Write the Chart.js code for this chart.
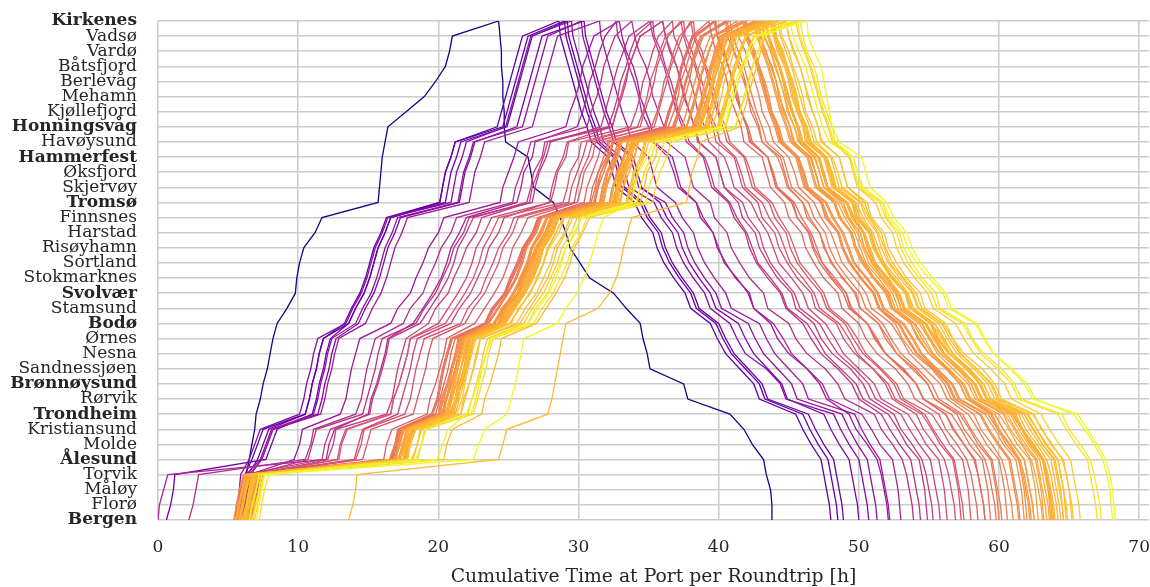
<!DOCTYPE html>
<html><head><meta charset="utf-8">
<script src="https://cdn.jsdelivr.net/npm/chart.js@4.4.1/dist/chart.umd.min.js"></script>
<style>html,body{margin:0;padding:0;background:#fff;}canvas{display:block;}</style>
</head><body>
<canvas id="c" width="1150" height="587"></canvas>
<script>
// Ports from north (top) to south (bottom)
const ports = ['Kirkenes','Vadsø','Vardø','Båtsfjord','Berlevåg','Mehamn','Kjøllefjord','Honningsvåg','Havøysund','Hammerfest','Øksfjord','Skjervøy','Tromsø','Finnsnes','Harstad','Risøyhamn','Sortland','Stokmarknes','Svolvær','Stamsund','Bodø','Ørnes','Nesna','Sandnessjøen','Brønnøysund','Rørvik','Trondheim','Kristiansund','Molde','Ålesund','Torvik','Måløy','Florø','Bergen'];
const majorPorts = ['Kirkenes','Honningsvåg','Hammerfest','Tromsø','Svolvær','Bodø','Brønnøysund','Trondheim','Ålesund','Bergen'];
const xTicks = [0,10,20,30,40,50,60,70];
const xTitle = 'Cumulative Time at Port per Roundtrip [h]';

// Hours spent at each port, per roundtrip, in sailing order:
// northbound Bergen -> Kirkenes (34 stops), then southbound Vadsø -> Bergen (33 stops)
const dwellHours = [
[6.2,0,.1,0,.2,.2,.2,.1,.3,.2,.3,.2,.2,.3,.7,.6,.1,.2,.3,.8,.5,4.0,.1,.1,.1,.2,.2,1.3,1.3,.8,.7,.3,.2,3.3, .1,.1,0,.1,0,.1,0,.1,1.6,.2,.2,1.4,.5,.4,.3,.7,.7,1.7,.9,1.0,.2,.3,.2,2.4,.3,3.0,1.0,.6,.8,.2,.3,.1,0],
[5.9,.1,.1,.1,.5,.4,.4,3.0,.3,.2,.3,.2,.3,1.5,.5,.6,.4,.3,.3,.5,.4,3.8,.2,.2,.4,.3,3.0,.3,.3,.3,.3,.3,.3,2.6, .1,.3,.3,.3,.3,.3,.4,.3,1.2,.3,.3,1.3,.5,.8,.3,.5,.7,.8,.4,1.4,.5,.6,1.0,1.0,.4,2.6,.5,.6,.7,.2,.2,.2,.1],
[6.1,.1,.1,.1,.7,.4,.4,2.6,.3,.2,.3,.2,.3,1.8,.5,.6,.4,.3,.3,.5,.4,3.5,.2,.2,.4,.3,3.4,.3,.3,.3,.3,.3,.3,2.6, .1,.3,.3,.3,.3,.3,.4,.3,1.2,.3,.3,1.3,.5,.8,.3,.5,.7,.8,.4,1.4,.5,.6,1.0,1.0,.4,2.7,.5,.6,.7,.2,.2,.2,.1],
[.6,.3,.2,.1,6.5,.4,.4,2.5,.3,.2,.3,.2,.3,1.3,.5,.6,.4,.3,.3,.5,.4,3.9,.2,.2,.4,.3,3.3,.3,.3,.3,.3,.3,.3,2.5, .1,.3,.3,.3,.3,.3,.4,.3,1.2,.3,.3,1.3,.5,.8,.3,.5,.7,.8,.4,1.4,.5,.6,1.0,1.0,.4,2.9,.5,.6,.7,.2,.2,.2,.1],
[6.3,.1,.1,.1,.8,.4,.4,3.2,.3,.2,.3,.2,.3,1.6,.5,.6,.4,.3,.3,.5,.4,4.2,.2,.2,.4,.3,3.0,.3,.3,.3,.3,.3,.3,3.0, .1,.3,.3,.3,.3,.3,.4,.3,1.2,.3,.3,1.3,.5,.8,.3,.5,.7,.8,.4,1.6,.5,.6,1.0,1.0,.4,2.6,.5,.6,.7,.2,.2,.2,.1],
[5.6,.1,.1,.1,.6,.4,.4,2.8,.3,.2,.3,.2,.3,2.0,.5,.6,.4,.3,.3,.5,.4,4.5,.2,.2,.4,.3,2.8,.3,.3,.3,.3,.3,.3,2.9, .1,.3,.3,.3,.3,.3,.4,.3,1.2,.3,.3,1.8,.5,.8,.3,.5,.7,.8,.4,1.4,.5,.6,1.5,1.0,.4,3.4,.5,.6,.7,.2,.2,.2,.1],
[6.0,.1,.1,.1,1.0,.4,.4,3.0,.3,.2,.3,.2,.3,1.7,.5,.6,.4,.3,.3,.5,.4,4.3,.2,.2,.4,.3,3.5,.3,.3,.3,.3,.3,.3,2.4, .1,.3,.3,.3,.3,.3,.4,.3,1.2,.3,.3,1.9,.5,.8,.3,.5,.7,.8,.4,1.9,.5,.6,1.0,1.0,.4,3.2,.5,.6,.7,.2,.2,.2,.1],
[6.2,.1,.1,.1,.9,.4,.4,3.4,.3,.2,.3,.2,.3,1.9,.5,.6,.4,.3,.3,.5,.4,4.4,.2,.2,.4,.3,3.4,.3,.3,.3,.3,.3,.3,3.0, .1,.3,.3,.3,.3,.3,.4,.3,1.2,.3,.3,1.3,.5,.8,.3,.5,.7,.8,.4,2.0,.5,.6,1.0,1.0,.4,3.3,.5,.6,.7,.2,.2,.2,.1],
[0,.1,.3,.3,11.3,.2,.4,2.4,.2,.4,.3,.3,.2,1.8,.7,.7,.6,.4,.3,.6,.5,3.6,.3,.2,.6,.2,3.0,.4,.3,.2,.4,.3,.4,.8, .1,.5,.3,.4,.3,.2,.5,.3,1.1,.4,.3,1.3,.5,.7,.4,.4,.9,.8,.4,1.4,.7,.6,1.1,1.1,.5,2.3,.7,.6,.9,.2,.2,.1,.1],
[2.2,.3,.2,.2,7.6,.4,.2,3.0,.4,.2,.2,.3,.3,2.0,.5,.9,.4,.5,.4,.7,.4,4.0,.2,.4,.4,.3,4.0,.3,.4,.3,.2,.4,.4,1.2, .2,.3,.5,.3,.2,.4,.4,.2,1.3,.3,.3,1.2,.3,.9,.3,.6,.7,1.0,.3,1.5,.5,.8,1.3,.9,.5,2.1,.5,.8,.7,.3,.2,.2,.1],
[6.0,.2,.2,.3,4.0,.3,.3,3.3,.3,.3,.3,.2,.3,2.4,.6,.8,.5,.5,.3,.7,.4,4.5,.2,.3,.5,.3,3.6,.3,.3,.3,.3,.4,.4,1.5, .2,.4,.4,.3,.3,.3,.4,.3,1.2,.3,.3,1.2,.4,.8,.3,.5,.8,.9,.4,1.2,.6,.7,1.2,1.0,.5,1.6,.6,.7,.8,.2,.2,.2,.1],
[5.5,.1,.3,.3,5.5,.2,.4,2.8,.2,.4,.3,.3,.2,2.2,.7,.7,.6,.4,.3,.6,.5,3.8,.3,.2,.6,.2,4.5,.4,.3,.2,.4,.3,.4,1.2, .1,.5,.3,.4,.3,.2,.5,.3,1.1,.4,.3,1.1,.5,.7,.4,.4,.9,.8,.4,1.4,.7,.6,1.1,1.1,.5,1.8,.7,.6,.9,.2,.2,.1,.1],
[6.4,.3,.2,.2,5.0,.4,.2,3.6,.4,.2,.2,.3,.3,1.6,.5,.9,.4,.5,.4,.7,.4,3.4,.2,.4,.4,.3,4.6,.3,.4,.3,.2,.4,.4,1.6, .2,.3,.5,.3,.2,.4,.4,.2,1.3,.3,.3,1.0,.3,.9,.3,.6,.7,1.0,.3,1.3,.5,.8,1.3,.9,.5,1.7,.5,.8,.7,.3,.2,.2,.1],
[6.0,.2,.2,.3,7.3,.3,.3,2.5,.3,.3,.3,.2,.3,2.4,.6,.8,.5,.5,.3,.7,.4,3.2,.2,.3,.5,.3,3.2,.3,.3,.3,.3,.4,.4,1.6, .2,.4,.4,.3,.3,.3,.4,.3,1.2,.3,.3,1.3,.4,.8,.3,.5,.8,.9,.4,1.4,.6,.7,1.2,1.0,.5,1.8,.6,.7,.8,.2,.2,.2,.1],
[5.7,.1,.3,.3,6.4,.2,.4,3.2,.2,.4,.3,.3,.2,2.0,.7,.7,.6,.4,.3,.6,.5,4.2,.3,.2,.6,.2,4.4,.4,.3,.2,.4,.3,.4,1.0, .1,.5,.3,.4,.3,.2,.5,.3,1.1,.4,.3,1.2,.5,.7,.4,.4,.9,.8,.4,1.2,.7,.6,1.1,1.1,.5,1.9,.7,.6,.9,.2,.2,.1,.1],
[6.6,.3,.2,.2,6.8,.4,.2,2.9,.4,.2,.2,.3,.3,2.6,.5,.9,.4,.5,.4,.7,.4,3.9,.2,.4,.4,.3,3.8,.3,.4,.3,.2,.4,.4,.9, .2,.3,.5,.3,.2,.4,.4,.2,1.3,.3,.3,1.1,.3,.9,.3,.6,.7,1.0,.3,1.5,.5,.8,1.3,.9,.5,1.7,.5,.8,.7,.3,.2,.2,.1],
[5.9,.2,.2,.3,8.0,.3,.3,3.0,.3,.3,.3,.2,.3,2.3,.6,.8,.5,.5,.3,.7,.4,4.0,.2,.3,.5,.3,4.4,.3,.3,.3,.3,.4,.4,.6, .2,.4,.4,.3,.3,.3,.4,.3,1.2,.3,.3,1.2,.4,.8,.3,.5,.8,.9,.4,1.3,.6,.7,1.2,1.0,.5,1.7,.6,.7,.8,.2,.2,.2,.1],
[6.2,.1,.3,.3,6.0,.2,.4,3.1,.2,.4,.3,.3,.2,2.5,.7,.7,.6,.4,.3,.6,.5,4.6,.3,.2,.6,.2,4.0,.4,.3,.2,.4,.3,.4,1.3, .1,.5,.3,.4,.3,.2,.5,.3,1.1,.4,.3,1.2,.5,.7,.4,.4,.9,.8,.4,1.4,.7,.6,1.1,1.1,.5,1.9,.7,.6,.9,.2,.2,.1,.1],
[5.8,.3,.2,.2,3.2,.4,.2,2.7,.4,.2,.2,.3,.3,2.2,.5,.9,.4,.5,.4,.7,.4,4.0,.2,.4,.4,.3,3.4,.3,.4,.3,.2,.4,.4,1.8, .2,.3,.5,.3,.2,.4,.4,.2,1.3,.3,.3,1.1,.3,.9,.3,.6,.7,1.0,.3,1.2,.5,.8,1.3,.9,.5,1.6,.5,.8,.7,.3,.2,.2,.1],
[5.8,.1,.3,.3,9.6,.2,.4,2.5,.2,.4,.3,.3,.2,2.0,.7,.7,.6,.4,.3,.6,.5,3.5,.3,.2,.6,.2,4.0,.4,.3,.2,.4,.3,.4,1.0, .1,.5,.3,.4,.3,.2,.5,.3,1.1,.4,.3,1.2,.5,.7,.4,.4,.9,.8,.4,1.3,.7,.6,1.1,1.1,.5,2.0,.7,.6,.9,.2,.2,.1,.1],
[6.0,.3,.2,.2,10.0,.4,.2,2.2,.4,.2,.2,.3,.3,2.4,.5,.9,.4,.5,.4,.7,.4,3.3,.2,.4,.4,.3,4.4,.3,.4,.3,.2,.4,.4,1.2, .2,.3,.5,.3,.2,.4,.4,.2,1.3,.3,.3,1.0,.3,.9,.3,.6,.7,1.0,.3,1.2,.5,.8,1.3,.9,.5,1.7,.5,.8,.7,.3,.2,.2,.1],
[5.5,.2,.2,.3,10.4,.3,.3,2.6,.3,.3,.3,.2,.3,2.2,.6,.8,.5,.5,.3,.7,.4,3.9,.2,.3,.5,.3,3.8,.3,.3,.3,.3,.4,.4,1.5, .2,.4,.4,.3,.3,.3,.4,.3,1.2,.3,.3,1.1,.4,.8,.3,.5,.8,.9,.4,1.3,.6,.7,1.2,1.0,.5,1.6,.6,.7,.8,.2,.2,.2,.1],
[6.2,.1,.3,.3,9.8,.2,.4,2.8,.2,.4,.3,.3,.2,2.0,.7,.7,.6,.4,.3,.6,.5,3.6,.3,.2,.6,.2,4.2,.4,.3,.2,.4,.3,.4,1.4, .1,.5,.3,.4,.3,.2,.5,.3,1.1,.4,.3,1.2,.5,.7,.4,.4,.9,.8,.4,1.1,.7,.6,1.1,1.1,.5,2.0,.7,.6,.9,.2,.2,.1,.1],
[5.6,.3,.2,.2,10.2,.4,.2,2.4,.4,.2,.2,.3,.3,2.5,.5,.9,.4,.5,.4,.7,.4,4.0,.2,.4,.4,.3,4.4,.3,.4,.3,.2,.4,.4,1.7, .2,.3,.5,.3,.2,.4,.4,.2,1.3,.3,.3,1.0,.3,.9,.3,.6,.7,1.0,.3,1.3,.5,.8,1.3,.9,.5,1.6,.5,.8,.7,.3,.2,.2,.1],
[6.4,.2,.2,.3,10.6,.3,.3,2.7,.3,.3,.3,.2,.3,1.9,.6,.8,.5,.5,.3,.7,.4,3.4,.2,.3,.5,.3,4.0,.3,.3,.3,.3,.4,.4,2.0, .2,.4,.4,.3,.3,.3,.4,.3,1.2,.3,.3,1.2,.4,.8,.3,.5,.8,.9,.4,1.2,.6,.7,1.2,1.0,.5,1.7,.6,.7,.8,.2,.2,.2,.1],
[5.9,.1,.3,.3,10.1,.2,.4,3.0,.2,.4,.3,.3,.2,2.3,.7,.7,.6,.4,.3,.6,.5,3.8,.3,.2,.6,.2,4.8,.4,.3,.2,.4,.3,.4,1.6, .1,.5,.3,.4,.3,.2,.5,.3,1.1,.4,.3,1.1,.5,.7,.4,.4,.9,.8,.4,1.4,.7,.6,1.1,1.1,.5,1.5,.7,.6,.9,.2,.2,.1,.1],
[6.1,.3,.2,.2,10.3,.4,.2,2.5,.4,.2,.2,.3,.3,2.6,.5,.9,.4,.5,.4,.7,.4,4.2,.2,.4,.4,.3,4.2,.3,.4,.3,.2,.4,.4,2.2, .2,.3,.5,.3,.2,.4,.4,.2,1.3,.3,.3,1.0,.3,.9,.3,.6,.7,1.0,.3,1.2,.5,.8,1.3,.9,.5,1.6,.5,.8,.7,.3,.2,.2,.1],
[5.4,.2,.2,.3,10.8,.3,.3,2.6,.3,.3,.3,.2,.3,2.1,.6,.8,.5,.5,.3,.7,.4,3.7,.2,.3,.5,.3,5.0,.3,.3,.3,.3,.4,.4,2.4, .2,.4,.4,.3,.3,.3,.4,.3,1.2,.3,.3,1.2,.4,.8,.3,.5,.8,.9,.4,1.4,.6,.7,1.2,1.0,.5,1.7,.6,.7,.8,.2,.2,.2,.1],
[6.3,.1,.3,.3,9.9,.2,.4,2.9,.2,.4,.3,.3,.2,2.2,.7,.7,.6,.4,.3,.6,.5,4.4,.3,.2,.6,.2,4.6,.4,.3,.2,.4,.3,.4,1.9, .1,.5,.3,.4,.3,.2,.5,.3,1.1,.4,.3,1.3,.5,.7,.4,.4,.9,.8,.4,1.3,.7,.6,1.1,1.1,.5,1.9,.7,.6,.9,.2,.2,.1,.1],
[5.7,.3,.2,.2,10.5,.4,.2,2.7,.4,.2,.2,.3,.3,2.4,.5,.9,.4,.5,.4,.7,.4,3.9,.2,.4,.4,.3,5.2,.3,.4,.3,.2,.4,.4,2.6, .2,.3,.5,.3,.2,.4,.4,.2,1.3,.3,.3,1.1,.3,.9,.3,.6,.7,1.0,.3,1.3,.5,.8,1.3,.9,.5,1.7,.5,.8,.7,.3,.2,.2,.1],
[6.6,.2,.2,.3,10.2,.3,.3,2.4,.3,.3,.3,.2,.3,2.7,.6,.8,.5,.5,.3,.7,.4,4.1,.2,.3,.5,.3,4.5,.3,.3,.3,.3,.4,.4,2.3, .2,.4,.4,.3,.3,.3,.4,.3,1.2,.3,.3,1.3,.4,.8,.3,.5,.8,.9,.4,1.5,.6,.7,1.2,1.0,.5,1.8,.6,.7,.8,.2,.2,.2,.1],
[5.9,.1,.3,.3,10.7,.2,.4,3.1,.2,.4,.3,.3,.2,2.0,.7,.7,.6,.4,.3,.6,.5,4.3,.3,.2,.6,.2,4.9,.4,.3,.2,.4,.3,.4,2.1, .1,.5,.3,.4,.3,.2,.5,.3,1.1,.4,.3,1.3,.5,.7,.4,.4,.9,.8,.4,1.4,.7,.6,1.1,1.1,.5,2.0,.7,.6,.9,.2,.2,.1,.1],
[6.0,.3,.2,.2,10.4,.4,.2,2.8,.4,.2,.2,.3,.3,2.5,.5,.9,.4,.5,.4,.7,.4,3.6,.2,.4,.4,.3,5.4,.3,.4,.3,.2,.4,.4,2.8, .2,.3,.5,.3,.2,.4,.4,.2,1.3,.3,.3,1.2,.3,.9,.3,.6,.7,1.0,.3,1.5,.5,.8,1.3,.9,.5,1.8,.5,.8,.7,.3,.2,.2,.1],
[5.6,.2,.2,.3,11.0,.3,.3,2.6,.3,.3,.3,.2,.3,2.3,.6,.8,.5,.5,.3,.7,.4,4.5,.2,.3,.5,.3,4.8,.3,.3,.3,.3,.4,.4,2.5, .2,.4,.4,.3,.3,.3,.4,.3,1.2,.3,.3,1.4,.4,.8,.3,.5,.8,.9,.4,1.5,.6,.7,1.2,1.0,.5,2.1,.6,.7,.8,.2,.2,.2,.1],
[6.2,.1,.3,.3,10.6,.2,.4,3.0,.2,.4,.3,.3,.2,2.6,.7,.7,.6,.4,.3,.6,.5,4.0,.3,.2,.6,.2,5.0,.4,.3,.2,.4,.3,.4,2.2, .1,.5,.3,.4,.3,.2,.5,.3,1.1,.4,.3,1.3,.5,.7,.4,.4,.9,.8,.4,1.6,.7,.6,1.1,1.1,.5,2.1,.7,.6,.9,.2,.2,.1,.1],
[6.5,.3,.2,.2,10.3,.4,.2,2.7,.4,.2,.2,.3,.3,2.4,.5,.9,.4,.5,.4,.7,.4,4.6,.2,.4,.4,.3,4.4,.3,.4,.3,.2,.4,.4,3.0, .2,.3,.5,.3,.2,.4,.4,.2,1.3,.3,.3,1.5,.3,.9,.3,.6,.7,1.0,.3,1.4,.5,.8,1.3,.9,.5,2.1,.5,.8,.7,.3,.2,.2,.1],
[5.8,.2,.2,.3,11.2,.3,.3,2.9,.3,.3,.3,.2,.3,2.2,.6,.8,.5,.5,.3,.7,.4,4.2,.2,.3,.5,.3,5.2,.3,.3,.3,.3,.4,.4,2.6, .2,.4,.4,.3,.3,.3,.4,.3,1.2,.3,.3,1.4,.4,.8,.3,.5,.8,.9,.4,1.6,.6,.7,1.2,1.0,.5,2.2,.6,.7,.8,.2,.2,.2,.1],
[6.3,.1,.3,.3,10.8,.2,.4,3.2,.2,.4,.3,.3,.2,2.8,.7,.7,.6,.4,.3,.6,.5,3.9,.3,.2,.6,.2,4.7,.4,.3,.2,.4,.3,.4,2.4, .1,.5,.3,.4,.3,.2,.5,.3,1.1,.4,.3,1.3,.5,.7,.4,.4,.9,.8,.4,1.5,.7,.6,1.1,1.1,.5,2.8,.7,.6,.9,.2,.2,.1,.1],
[6.0,.3,.2,.2,11.4,.4,.2,2.6,.4,.2,.2,.3,.3,2.5,.5,.9,.4,.5,.4,.7,.4,4.4,.2,.4,.4,.3,5.3,.3,.4,.3,.2,.4,.4,2.8, .2,.3,.5,.3,.2,.4,.4,.2,1.3,.3,.3,1.4,.3,.9,.3,.6,.7,1.0,.3,1.5,.5,.8,1.3,.9,.5,2.3,.5,.8,.7,.3,.2,.2,.1],
[6.9,.2,.2,.3,10.9,.3,.3,3.0,.3,.3,.3,.2,.3,2.6,.6,.8,.5,.5,.3,.7,.4,4.3,.2,.3,.5,.3,5.0,.3,.3,.3,.3,.4,.4,3.0, .2,.4,.4,.3,.3,.3,.4,.3,1.2,.3,.3,1.3,.4,.8,.3,.5,.8,.9,.4,1.6,.6,.7,1.2,1.0,.5,2.1,.6,.7,.8,.2,.2,.2,.1],
[6.1,.2,.2,.3,10.1,.3,.3,2.8,.3,.3,.3,.2,.3,2.3,.6,.8,.5,.5,.3,.7,.4,4.0,.2,.3,.5,.3,4.6,.3,.3,.3,.3,.4,.4,2.0, .2,.4,.4,.3,.3,.3,.4,.3,1.2,.3,.3,1.2,.4,.8,.3,.5,.8,.9,.4,1.4,.6,.7,1.2,1.0,.5,1.9,.6,.7,.8,.2,.2,.2,.1],
[5.7,.1,.3,.3,10.6,.2,.4,2.5,.2,.4,.3,.3,.2,2.4,.7,.7,.6,.4,.3,.6,.5,3.8,.3,.2,.6,.2,4.9,.4,.3,.2,.4,.3,.4,2.2, .1,.5,.3,.4,.3,.2,.5,.3,1.1,.4,.3,1.3,.5,.7,.4,.4,.9,.8,.4,1.5,.7,.6,1.1,1.1,.5,2.0,.7,.6,.9,.2,.2,.1,.1],
[6.3,.3,.2,.2,10.3,.4,.2,2.9,.4,.2,.2,.3,.3,2.1,.5,.9,.4,.5,.4,.7,.4,4.2,.2,.4,.4,.3,4.7,.3,.4,.3,.2,.4,.4,2.5, .2,.3,.5,.3,.2,.4,.4,.2,1.3,.3,.3,1.1,.3,.9,.3,.6,.7,1.0,.3,1.3,.5,.8,1.3,.9,.5,1.8,.5,.8,.7,.3,.2,.2,.1],
[5.9,.2,.2,.3,10.9,.3,.3,2.6,.3,.3,.3,.2,.3,2.6,.6,.8,.5,.5,.3,.7,.4,4.1,.2,.3,.5,.3,5.1,.3,.3,.3,.3,.4,.4,2.4, .2,.4,.4,.3,.3,.3,.4,.3,1.2,.3,.3,1.3,.4,.8,.3,.5,.8,.9,.4,1.6,.6,.7,1.2,1.0,.5,2.0,.6,.7,.8,.2,.2,.2,.1],
[6.4,.1,.3,.3,10.4,.2,.4,3.0,.2,.4,.3,.3,.2,2.3,.7,.7,.6,.4,.3,.6,.5,4.3,.3,.2,.6,.2,4.5,.4,.3,.2,.4,.3,.4,2.7, .1,.5,.3,.4,.3,.2,.5,.3,1.1,.4,.3,1.4,.5,.7,.4,.4,.9,.8,.4,1.5,.7,.6,1.1,1.1,.5,2.2,.7,.6,.9,.2,.2,.1,.1],
[5.5,.3,.2,.2,11.1,.4,.2,2.7,.4,.2,.2,.3,.3,2.5,.5,.9,.4,.5,.4,.7,.4,4.4,.2,.4,.4,.3,5.0,.3,.4,.3,.2,.4,.4,2.9, .2,.3,.5,.3,.2,.4,.4,.2,1.3,.3,.3,1.3,.3,.9,.3,.6,.7,1.0,.3,1.4,.5,.8,1.3,.9,.5,2.0,.5,.8,.7,.3,.2,.2,.1],
[6.1,.2,.2,.3,10.7,.3,.3,2.9,.3,.3,.3,.2,.3,2.4,.6,.8,.5,.5,.3,.7,.4,4.0,.2,.3,.5,.3,4.8,.3,.3,.3,.3,.4,.4,2.6, .2,.4,.4,.3,.3,.3,.4,.3,1.2,.3,.3,1.4,.4,.8,.3,.5,.8,.9,.4,1.5,.6,.7,1.2,1.0,.5,2.3,.6,.7,.8,.2,.2,.2,.1],
[6.6,.1,.3,.3,10.5,.2,.4,2.6,.2,.4,.3,.3,.2,2.7,.7,.7,.6,.4,.3,.6,.5,4.5,.3,.2,.6,.2,5.2,.4,.3,.2,.4,.3,.4,2.5, .1,.5,.3,.4,.3,.2,.5,.3,1.1,.4,.3,1.4,.5,.7,.4,.4,.9,.8,.4,1.7,.7,.6,1.1,1.1,.5,2.4,.7,.6,.9,.2,.2,.1,.1],
[5.8,.3,.2,.2,10.8,.4,.2,3.1,.4,.2,.2,.3,.3,2.2,.5,.9,.4,.5,.4,.7,.4,3.9,.2,.4,.4,.3,5.5,.3,.4,.3,.2,.4,.4,2.7, .2,.3,.5,.3,.2,.4,.4,.2,1.3,.3,.3,1.3,.3,.9,.3,.6,.7,1.0,.3,1.6,.5,.8,1.3,.9,.5,2.2,.5,.8,.7,.3,.2,.2,.1],
[6.2,.2,.2,.3,11.3,.3,.3,2.8,.3,.3,.3,.2,.3,2.6,.6,.8,.5,.5,.3,.7,.4,4.3,.2,.3,.5,.3,4.9,.3,.3,.3,.3,.4,.4,2.3, .2,.4,.4,.3,.3,.3,.4,.3,1.2,.3,.3,1.5,.4,.8,.3,.5,.8,.9,.4,1.5,.6,.7,1.2,1.0,.5,2.4,.6,.7,.8,.2,.2,.2,.1],
[5.9,.1,.3,.3,10.2,.2,.4,2.6,.2,.4,.3,.3,.2,2.2,.7,.7,.6,.4,.3,.6,.5,3.7,.3,.2,.6,.2,4.3,.4,.3,.2,.4,.3,.4,1.8, .1,.5,.3,.4,.3,.2,.5,.3,1.1,.4,.3,1.1,.5,.7,.4,.4,.9,.8,.4,1.3,.7,.6,1.1,1.1,.5,1.8,.7,.6,.9,.2,.2,.1,.1],
[6.0,.3,.2,.2,9.9,.4,.2,2.4,.4,.2,.2,.3,.3,2.4,.5,.9,.4,.5,.4,.7,.4,3.6,.2,.4,.4,.3,4.1,.3,.4,.3,.2,.4,.4,1.5, .2,.3,.5,.3,.2,.4,.4,.2,1.3,.3,.3,1.2,.3,.9,.3,.6,.7,1.0,.3,1.2,.5,.8,1.3,.9,.5,1.6,.5,.8,.7,.3,.2,.2,.1],
[6.5,.2,.2,.3,10.4,.3,.3,2.7,.3,.3,.3,.2,.3,2.5,.6,.8,.5,.5,.3,.7,.4,4.1,.2,.3,.5,.3,4.4,.3,.3,.3,.3,.4,.4,2.1, .2,.4,.4,.3,.3,.3,.4,.3,1.2,.3,.3,1.3,.4,.8,.3,.5,.8,.9,.4,1.4,.6,.7,1.2,1.0,.5,2.0,.6,.7,.8,.2,.2,.2,.1],
[5.6,.1,.3,.3,10.9,.2,.4,2.9,.2,.4,.3,.3,.2,2.3,.7,.7,.6,.4,.3,.6,.5,4.2,.3,.2,.6,.2,5.0,.4,.3,.2,.4,.3,.4,2.4, .1,.5,.3,.4,.3,.2,.5,.3,1.1,.4,.3,1.2,.5,.7,.4,.4,.9,.8,.4,1.5,.7,.6,1.1,1.1,.5,2.1,.7,.6,.9,.2,.2,.1,.1],
[6.8,.1,.3,.3,12.9,.2,.4,2.1,.2,.4,.3,.3,.2,2.5,.7,.7,.6,.4,.3,.6,.5,3.6,.3,.2,.6,.2,4.3,.4,.3,.2,.4,.3,.4,2.0, .1,.5,.3,.4,.3,.2,.5,.3,1.1,.4,.3,1.4,.5,.7,.4,.4,.9,.8,.4,1.5,.7,.6,1.1,1.1,.5,2.4,.7,.6,.9,.2,.2,.1,.1],
[6.7,.3,.2,.2,11.0,.4,.2,3.3,.4,.2,.2,.3,.3,2.7,.5,.9,.4,.5,.4,.7,.4,4.6,.2,.4,.4,.3,5.1,.3,.4,.3,.2,.4,.4,2.6, .2,.3,.5,.3,.2,.4,.4,.2,1.3,.3,.3,1.5,.3,.9,.3,.6,.7,1.0,.3,1.8,.5,.8,1.3,.9,.5,2.9,.5,.8,.7,.3,.2,.2,.1],
[7.2,.2,.2,.3,10.6,.3,.3,3.4,.3,.3,.3,.2,.3,2.9,.6,.8,.5,.5,.3,.7,.4,4.7,.2,.3,.5,.3,4.6,.3,.3,.3,.3,.4,.4,2.4, .2,.4,.4,.3,.3,.3,.4,.3,1.2,.3,.3,1.5,.4,.8,.3,.5,.8,.9,.4,1.8,.6,.7,1.2,1.0,.5,2.8,.6,.7,.8,.2,.2,.2,.1],
[13.6,.3,.2,.1,10.1,.3,.3,2.9,.3,.2,.2,.2,.2,.2,2.3,.8,.5,.3,.2,.3,.3,3.9,.2,.2,.4,.2,2.8,.3,.3,.3,.3,.3,.3,1.5, .2,.4,.4,.3,.3,.3,.4,.3,1.2,.3,.3,1.2,.4,.8,.3,.5,.8,.9,.4,1.4,.6,.7,1.2,1.0,.5,1.9,.6,.7,.8,.2,.2,.2,.1],
[7.0,.2,.2,.2,14.9,.4,.4,1.6,.3,.3,.2,.2,.2,2.4,.6,.8,.5,.4,.3,.3,.4,2.0,.2,.3,.6,.4,5.1,.3,.4,.3,.4,.5,.5,3.5, .1,.4,.5,.2,.2,.2,.2,.5,1.6,.3,.3,1.2,.5,.9,.4,.6,.9,.9,.4,1.8,.6,.6,1.2,1.0,.6,3.2,.7,.7,.6,.3,.2,.1,.1],
[6.5,.2,.3,.2,12.7,.4,.4,1.3,.4,.4,.3,.3,.4,2.6,.7,.8,.5,.4,.3,.6,.5,3.9,.3,.3,.5,.3,4.6,.4,.4,.3,.4,.5,.5,2.5, .2,.4,.5,.3,.3,.3,.3,.5,1.7,.3,.4,1.4,.5,.9,.4,.6,.9,1.0,.4,1.9,.6,.7,1.3,1.1,.6,2.7,.8,.7,.6,.3,.2,.1,.1]
];

// sailing order: north from Bergen to Kirkenes, then south back to Bergen
const route = ports.slice().reverse().concat(ports.slice(1));

const plasmaStops = ['#0d0887','#41049d','#6a00a8','#8f0da4','#b12a90','#cc4778','#e16462','#f2844b','#fca636','#fcce25','#f0f921'];
function hex2rgb(h){return [parseInt(h.substr(1,2),16),parseInt(h.substr(3,2),16),parseInt(h.substr(5,2),16)];}
function plasma(t){
  t = Math.max(0, Math.min(1, t));
  const p = t * (plasmaStops.length - 1);
  const i = Math.min(Math.floor(p), plasmaStops.length - 2);
  const f = p - i;
  const a = hex2rgb(plasmaStops[i]), b = hex2rgb(plasmaStops[i + 1]);
  const c = a.map((v, k) => Math.round(v + (b[k] - v) * f));
  return 'rgb(' + c.join(',') + ')';
}

const trips = dwellHours.map(row => {
  let cum = 0;
  return row.map((d, i) => {
    cum += d;
    return { x: Math.round(cum * 100) / 100, y: ports.length - 1 - ports.indexOf(route[i]) };
  });
});
const finals = trips.map(t => t[t.length - 1].x);
const lo = Math.min(...finals), hi = Math.max(...finals);

const datasets = trips.map((pts, i) => ({
  data: pts,
  showLine: true,
  borderColor: plasma((finals[i] - lo) / (hi - lo)),
  borderWidth: 1.3,
  pointRadius: 0,
  pointHoverRadius: 0,
  tension: 0,
  fill: false,
  order: -finals[i]
}));

const serif = "'DejaVu Serif', 'Liberation Serif', serif";
const textColor = '#262626';
function portFont(c) {
  const name = (c && c.tick) ? ports[ports.length - 1 - c.tick.value] : '';
  return { family: serif, size: 17, weight: majorPorts.includes(name) ? 'bold' : 'normal' };
}

new Chart(document.getElementById('c'), {
  type: 'scatter',
  data: { datasets },
  options: {
    responsive: false,
    animation: false,
    events: [],
    layout: { padding: { top: 21, right: 1, left: 0, bottom: 0 } },
    plugins: { legend: { display: false }, tooltip: { enabled: false } },
    scales: {
      x: {
        type: 'linear',
        min: xTicks[0],
        max: 70.7,
        border: { display: false },
        grid: { color: '#cccccc', lineWidth: 1.5, drawTicks: false },
        afterBuildTicks: s => { s.ticks = xTicks.map(v => ({ value: v })); },
        ticks: { includeBounds: false, padding: 17, color: textColor, font: { family: serif, size: 17 } },
        title: { display: true, text: xTitle, color: textColor, padding: { top: 0, bottom: 0 }, font: { family: serif, size: 18.8, lineHeight: 1.05 } },
        afterFit: s => { s.height = 67; s.paddingLeft = 0; s.paddingRight = 0; }
      },
      y: {
        type: 'linear',
        min: 0,
        max: ports.length - 1,
        border: { display: false },
        grid: { color: '#cccccc', lineWidth: 1.5, drawTicks: false },
        ticks: {
          stepSize: 1,
          autoSkip: false,
          padding: 21,
          color: textColor,
          callback: v => ports[ports.length - 1 - v],
          font: portFont
        },
        afterFit: s => { s.width = 158; s.paddingTop = 0; s.paddingBottom = 0; }
      }
    }
  }
});
</script>
</body></html>
